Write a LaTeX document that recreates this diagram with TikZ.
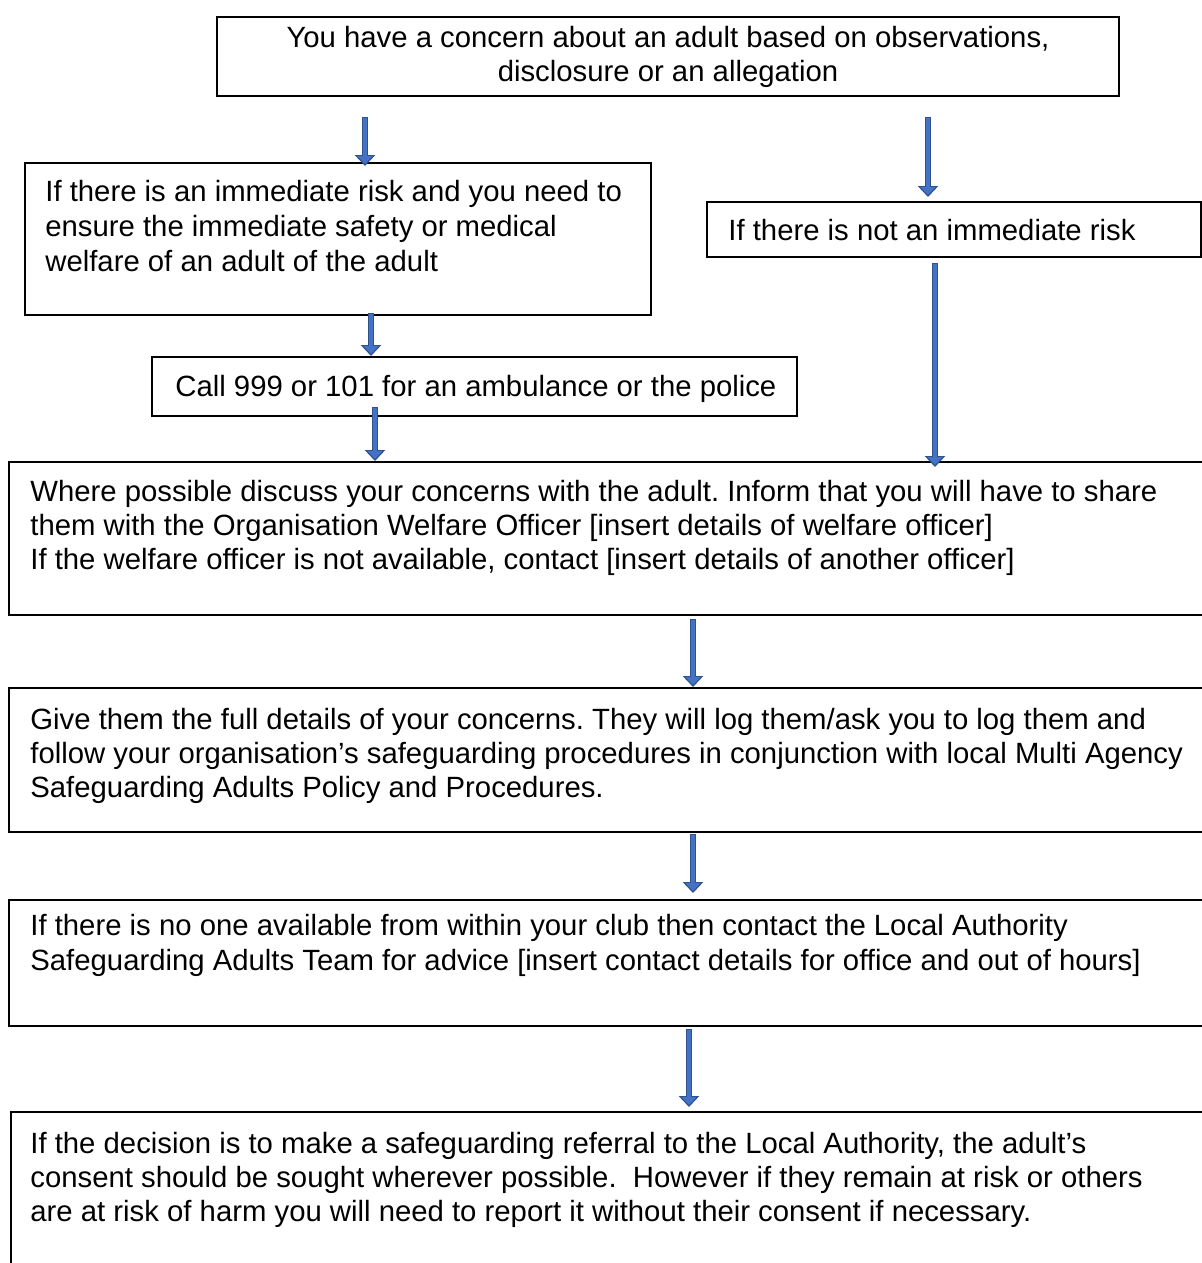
\documentclass[tikz,border=0pt]{standalone}
\usepackage{fontspec}
\setmainfont{Liberation Sans}
\usetikzlibrary{arrows.meta,fit}
\frenchspacing
\definecolor{arrowblue}{HTML}{4472C4}
\definecolor{arrowdark}{HTML}{2F528F}
\tikzset{
  box/.style={draw=black, line width=1pt, inner sep=0pt},
  txt/.style={anchor=north west, align=left, inner sep=0pt, font=\fontsize{14.65pt}{17pt}\selectfont},
  txtc/.style={anchor=north, align=center, inner sep=0pt, font=\fontsize{14.65pt}{17pt}\selectfont},
  arr/.style={draw=arrowdark, line width=3.3pt, -{Triangle[width=10pt,length=5.5pt]},
    postaction={draw=arrowblue, line width=1.9pt, -{Triangle[width=7.4pt,length=4pt]}, shorten >=1pt, shorten <=0.6pt}}
}
\begin{document}
\begin{tikzpicture}[x=0.5pt,y=-0.5pt]
\useasboundingbox[fill=white] (0,0) rectangle (1202,1263);
% boxes
\node[box, fit={(217,17) (1119,96)}] (top) {};
\node[box, fit={(25,163) (651,315)}] (left) {};
\node[box, fit={(707,202) (1201,257)}] (right) {};
\node[box, fit={(152,357) (797,416)}] (call) {};
\node[box, fit={(9,462) (1206,615)}] (b1) {};
\node[box, fit={(9,688) (1206,832)}] (b2) {};
\node[box, fit={(9,900) (1206,1026)}] (b3) {};
\node[box, fit={(11,1112) (1206,1270)}] (b4) {};
% texts
\node[txtc] (ttop) at (668,23) {\strut You have a concern about an adult based on observations,\\\strut disclosure or an allegation};
\node[txt, font=\fontsize{14.65pt}{17.5pt}\selectfont] (tleft) at (45,177) {\strut If there is an immediate risk and you need to\\\strut ensure the immediate safety or medical\\\strut welfare of an adult of the adult};
\node[txt] (tright) at (728,216) {\strut If there is not an immediate risk};
\node[txt] (tcall) at (175,372) {\strut Call 999 or 101 for an ambulance or the police};
\node[txt] (t1) at (30,477) {\strut Where possible discuss your concerns with the adult. Inform that you will have to share\\\strut them with the Organisation Welfare Officer [insert details of welfare officer]\\\strut If the welfare officer is not available, contact [insert details of another officer]};
\node[txt] (t2) at (30,705) {\strut Give them the full details of your concerns. They will log them/ask you to log them and\\\strut follow your organisation’s safeguarding procedures in conjunction with local Multi Agency\\\strut Safeguarding Adults Policy and Procedures.};
\node[txt, font=\fontsize{14.65pt}{17.5pt}\selectfont] (t3) at (30,911) {\strut If there is no one available from within your club then contact the Local Authority\\\strut Safeguarding Adults Team for advice [insert contact details for office and out of hours]};
\node[txt] (t4) at (30,1129) {\strut If the decision is to make a safeguarding referral to the Local Authority, the adult’s\\\strut consent should be sought wherever possible.\ \ However if they remain at risk or others\\\strut are at risk of harm you will need to report it without their consent if necessary.};
% arrow starts
\coordinate (s1) at (365,117);
\coordinate (s2) at (928,117);
\coordinate (s3) at (371,313);
\coordinate (s4) at (375,407);
\coordinate (s5) at (935,263);
\coordinate (s6) at (693,619);
\coordinate (s7) at (693,834);
\coordinate (s8) at (689,1029);
\draw[arr] (s1) -- ([yshift=-2pt]s1 |- left.north);
\draw[arr] (s2) -- ([yshift=2pt]s2 |- right.north);
\draw[arr] (s3) -- (s3 |- call.north);
\draw[arr] (s4) -- (s4 |- b1.north);
\draw[arr] (s5) -- ([yshift=-3pt]s5 |- b1.north);
\draw[arr] (s6) -- (s6 |- b2.north);
\draw[arr] (s7) -- ([yshift=3pt]s7 |- b3.north);
\draw[arr] (s8) -- ([yshift=2pt]s8 |- b4.north);
\end{tikzpicture}
\end{document}
